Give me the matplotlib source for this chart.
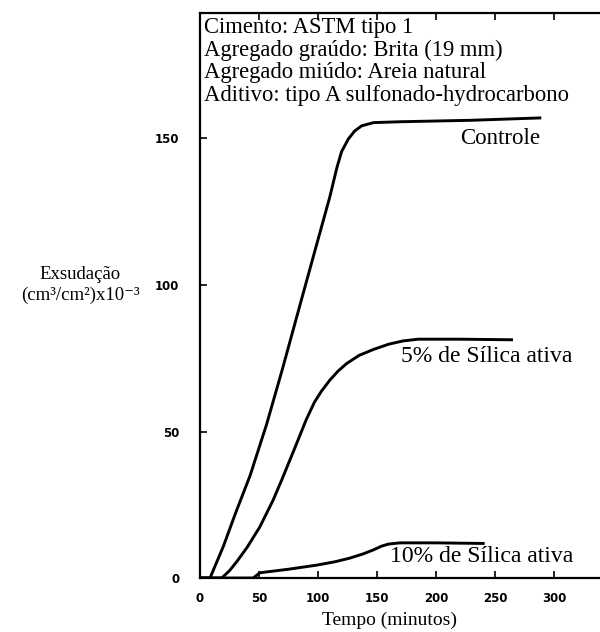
import matplotlib
matplotlib.use("Agg")
import matplotlib.pyplot as plt

# tempo (min) x exsudacao (cm3/cm2 x 10^-3)
controle_t = [0, 8.5, 20, 30, 42.5, 56.5, 70, 86, 99, 110, 116, 120, 125.7, 131, 137, 147, 170, 230, 288]
controle_y = [0, 0, 11, 22, 35, 52.5, 71.5, 95, 114, 130, 140, 145.5, 149.8, 152.5, 154.3, 155.4, 155.7, 156.2, 157]

silica5_t = [0, 18.4, 25, 31, 40, 50.8, 62, 69.2, 80, 90, 97, 103, 110, 117, 124.3, 135, 147, 160, 172, 185, 220, 264]
silica5_y = [0, 0, 2.5, 5.5, 10.5, 17.5, 26.6, 33.4, 44, 54, 60, 63.8, 67.5, 70.6, 73.2, 76, 78, 79.8, 80.9, 81.5, 81.5, 81.3]

silica10_t = [0, 45, 50.8, 75, 98.9, 115, 127, 138, 147, 154, 160, 169.5, 200, 240]
silica10_y = [0, 0, 1.8, 3, 4.4, 5.6, 6.8, 8.2, 9.6, 10.9, 11.6, 12, 12, 11.8]

x_ticks = [0, 50, 100, 150, 200, 250, 300]
y_ticks = [0, 50, 100, 150]

info_lines = [
    "Cimento: ASTM tipo 1",
    "Agregado graúdo: Brita (19 mm)",
    "Agregado miúdo: Areia natural",
    "Aditivo: tipo A sulfonado-hydrocarbono",
]

serif = ["Liberation Serif", "DejaVu Serif"]

fig = plt.figure(figsize=(6, 6.32), dpi=100)
ax = fig.add_axes([0.3333, 0.0854, 0.6667, 0.894])

for t, y in [(controle_t, controle_y), (silica5_t, silica5_y), (silica10_t, silica10_y)]:
    ax.plot(t, y, color="black", lw=2.1, solid_joinstyle="round")

ax.set_xlim(0, 339)
ax.set_ylim(0, 192.8)
ax.set_xticks(x_ticks)
ax.set_yticks(y_ticks)
ax.tick_params(direction="in", length=5, width=1.2, labelsize=8.5, top=True)
for lab in ax.get_xticklabels() + ax.get_yticklabels():
    lab.set_fontweight("heavy")
ax.tick_params(axis="x", pad=10)
ax.tick_params(axis="y", pad=15)

ax.spines["right"].set_visible(False)
for s in ["left", "bottom", "top"]:
    ax.spines[s].set_linewidth(1.6)

ax.text(0.01, 0.993, "\n".join(info_lines), transform=ax.transAxes,
        ha="left", va="top", fontsize=16.3, family=serif, linespacing=1.1)

ax.text(288, 150, "Controle", ha="right", va="center", fontsize=16.5, family=serif)
ax.text(316, 75.5, "5% de Sílica ativa", ha="right", va="center", fontsize=17, family=serif)
ax.text(316, 7.5, "10% de Sílica ativa", ha="right", va="center", fontsize=17, family=serif)

fig.text(80 / 600, 1 - 285 / 632, "Exsudação\n(cm³/cm²)x10⁻³", ha="center", va="center",
         fontsize=13.5, family=serif, linespacing=1.35)
fig.text(390 / 600, 1 - 620 / 632, "Tempo (minutos)", ha="center", va="center",
         fontsize=14, family=serif)

fig.savefig("out.png", dpi=100)
